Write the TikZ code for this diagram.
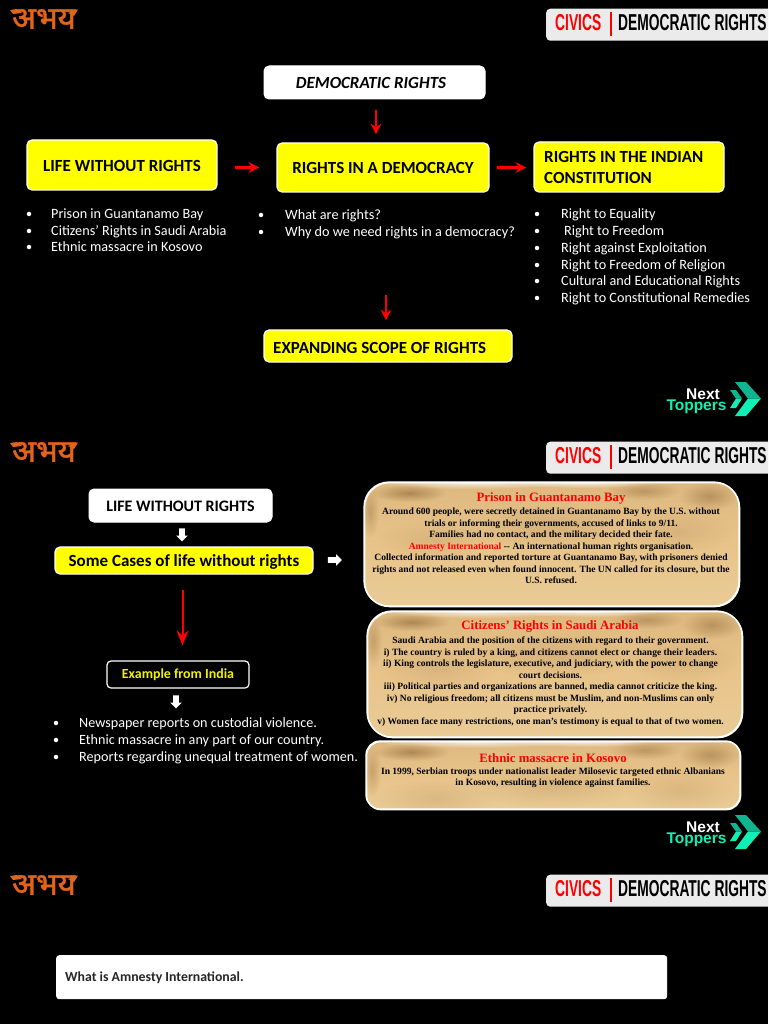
\documentclass[tikz,border=0pt]{standalone}
\usepackage{fontspec}
\usetikzlibrary{shapes.arrows,arrows.meta,fadings}
\setmainfont{Carlito}
\newfontfamily\hdfont[FakeStretch=0.6]{Liberation Sans}
\newfontfamily\serfont{Liberation Serif}
\newfontfamily\ntfont{Liberation Sans}
\newfontfamily\devfont[Script=Devanagari,FakeBold=2.5]{Noto Sans}
\newfontfamily\devfontb[Script=Devanagari,FakeBold=0.5]{Noto Sans}
\definecolor{ryellow}{HTML}{FFFF00}
\definecolor{parch}{HTML}{E8C48A}
\definecolor{parchtop}{HTML}{DDB980}
\definecolor{parchlow}{HTML}{EACB96}
\definecolor{blot}{HTML}{9A7040}
\definecolor{ntdark}{HTML}{10B48E}
\definecolor{ntlight}{HTML}{10F0B4}
\definecolor{logoor}{HTML}{E0661A}
\definecolor{logodk}{HTML}{8E2206}
\definecolor{hdgrey}{HTML}{EBEBEB}
\definecolor{exyellow}{HTML}{F2F200}
\tikzfading[name=softblot,inner color=transparent!0,outer color=transparent!100]
\newcommand{\lw}[2]{\raisebox{-#1pt}[0pt][0pt]{#2}}
\tikzset{
  x=1pt,y=-1pt,
  whitebox/.style={draw=white,fill=white,rounded corners=5pt,line width=1pt,text=black,inner sep=0pt},
  yellowbox/.style={draw=white,fill=ryellow,rounded corners=5pt,line width=1.2pt,text=black,inner sep=0pt},
  boxtext/.style={font=\fontsize{17}{20}\selectfont\bfseries},
  bodytext/.style={text=white,font=\fontsize{14.2}{16}\selectfont,anchor=mid west,inner sep=0pt,yshift=-2pt},
  dotmark/.style={circle,fill=white,inner sep=0pt,minimum size=4.5pt},
  redarrow/.style={draw=red,line width=2.2pt,-{Stealth[length=11pt,width=11pt,inset=4pt]}},
  blockarrow/.style={single arrow,fill=white,inner sep=0pt,text width=5.5pt,text height=5.5pt,text depth=0pt,minimum height=13pt,single arrow head extend=3pt,single arrow tip angle=90},
  parchbox/.style={draw=white,line width=1.3pt,top color=parchtop,bottom color=parchlow,middle color=parch,inner sep=0pt},
  partitle/.style={text=red,font=\fontsize{12.8}{14}\selectfont\serfont\bfseries,inner sep=0pt},
  partext/.style={text=black,align=center,inner sep=0pt,font=\fontsize{9.55}{11.45}\selectfont\serfont\bfseries},
  logo/.pic={
    \node[text=logodk,font=\fontsize{31}{34}\selectfont\devfont,inner sep=0pt] (-back) at (44,19) {अभय};
    \node[text=logoor,font=\fontsize{31}{34}\selectfont\devfontb,inner sep=0pt] (-mark) at (44,19) {अभय};
    \fill[logoor] (10,10) -- (17,9) -- (22,13) -- (13,14) -- cycle;
    \fill[logoor] (68,13) -- (78,9.5) -- (74,16) -- cycle;
  },
  header/.pic={
    \node[fill=hdgrey,rounded corners=4pt,minimum width=230pt,minimum height=32pt,anchor=north west,inner sep=0pt] (-box) at (546,8.5) {};
    \node[text=red,font=\fontsize{23}{24}\selectfont\hdfont\bfseries,inner sep=0pt,anchor=mid west] (-civ) at (555,28.5) {CIVICS};
    \fill[red] (610,12) rectangle (612,36);
    \node[text=black,font=\fontsize{23}{24}\selectfont\hdfont\bfseries,inner sep=0pt,anchor=mid west] (-dem) at (618,28.5) {DEMOCRATIC RIGHTS};
  },
  nextlogo/.pic={
    \node[text=white,font=\fontsize{15.5}{16}\selectfont\ntfont\bfseries,inner sep=0pt] (-next) at (703,394) {Next};
    \node[text=ntlight,font=\fontsize{15.5}{16}\selectfont\ntfont\bfseries,inner sep=0pt] (-top) at (696.5,407) {Toppers};
    \fill[ntdark] (735,382) -- (746,382) -- (761,398.5) -- (748,398.5) -- cycle;
    \fill[ntlight] (748,398.5) -- (761,398.5) -- (746,416) -- (735,416) -- cycle;
    \fill[ntdark] (730,390) -- (736,390) -- (742,398.5) -- (736,398.5) -- cycle;
    \fill[ntlight] (736,398.5) -- (742,398.5) -- (736,408) -- (730,408) -- cycle;
  }
}
\newcommand{\softb}[5][.7]{% opacity; x y rx ry
  \fill[blot,opacity=#1,path fading=softblot] (#2,#3) ellipse (#4 and #5);}
\newcommand{\softw}[5][.8]{%
  \fill[white,opacity=#1,path fading=softblot] (#2,#3) ellipse (#4 and #5);}
\newcommand{\blotches}[5]{% x y width height radius
  \begin{scope}
    \clip[rounded corners=#5] (#1,#2) rectangle ++(#3,#4);
    \softw{#1+110}{#2}{100}{7}
    \softw{#1+220}{#2}{80}{6}
    \softb{#1+45}{#2+11}{38}{9}
    \softb[.55]{#1+#3-30}{#2+14}{30}{14}
    \softb[.5]{#1+#3-95}{#2+9}{36}{9}
    \softb[.4]{#1+6}{#2+30}{9}{26}
    \softb[.2]{#1+#3/2}{#2+45}{85}{22}
    \softb[.18]{#1+70}{#2+58}{60}{20}
    \softb[.18]{#1+#3-60}{#2+50}{55}{22}
  \end{scope}
  \draw[white,line width=1.3pt,rounded corners=#5] (#1,#2) rectangle ++(#3,#4);
}
\begin{document}
\begin{tikzpicture}
\useasboundingbox (0,0) rectangle (768,1024);
\fill[black] (0,0) rectangle (768,1024);
% repeating furniture
\pic (la) at (0,0) {logo};
\pic (lb) at (0,433) {logo};
\pic (lc) at (0,866) {logo};
\begin{scope}
\clip (0,0) rectangle (768,1024);
\pic (ha) at (0,0) {header};
\pic (hb) at (0,433) {header};
\pic (hc) at (0,866) {header};
\end{scope}
\pic (na) at (0,0) {nextlogo};
\pic (nb) at (0,433) {nextlogo};
% page 1
\node[whitebox,minimum width=221pt,minimum height=33pt,font=\fontsize{17}{20}\selectfont\bfseries\itshape] (dr) at (374.5,82.5) {\hspace*{-7pt}DEMOCRATIC RIGHTS};
\node[yellowbox,boxtext,minimum width=190pt,minimum height=50pt] (lwr) at (122,165) {\lw{6.5}{LIFE WITHOUT RIGHTS}};
\node[yellowbox,boxtext,minimum width=212pt,minimum height=49pt] (rid) at (383,167.5) {\lw{6}{RIGHTS IN A DEMOCRACY}};
\node[yellowbox,minimum width=190pt,minimum height=50pt] (rii) at (629,167) {};
\node[text=black,anchor=west,align=left,inner sep=0pt,font=\fontsize{17}{21}\selectfont\bfseries] (riit) at (544,167.5) {RIGHTS IN THE INDIAN\\CONSTITUTION};
\node[yellowbox,minimum width=248pt,minimum height=32pt] (esr) at (388,346) {};
\node[boxtext,text=black,anchor=mid west,inner sep=0pt] (esrt) at (273,351) {EXPANDING SCOPE OF RIGHTS};
\draw[redarrow,shorten <=11pt,shorten >=8pt] (dr.south -| 376,0) -- (rid.north -| 376,0);
\draw[redarrow,shorten <=17pt,shorten >=17pt] (lwr.east |- rid.west) -- (rid.west);
\draw[redarrow,shorten <=7pt,shorten >=7pt] (rid.east) -- (rii.west |- rid.east);
\coordinate (exptop) at (386,295);
\draw[redarrow,shorten >=9pt] (exptop) -- (esr.north -| exptop);
% bullets 1
\foreach \y/\t [count=\i] in {214/Prison in Guantanamo Bay,231/Citizens’ Rights in Saudi Arabia,247/Ethnic massacre in Kosovo}{
  \node[dotmark] (ba\i) at (29,\y) {};
  \node[bodytext] (ta\i) at (51,\y) {\t};
}
\foreach \y/\t [count=\i] in {215/What are rights?,232/Why do we need rights in a democracy?}{
  \node[dotmark] (bb\i) at (261,\y) {};
  \node[bodytext] (tb\i) at (285,\y) {\t};
}
\foreach \y/\x/\t [count=\i] in {214/561/Right to Equality,231/564/Right to Freedom,248/561/Right against Exploitation,265/561/Right to Freedom of Religion,281/561/Cultural and Educational Rights,298/561/Right to Constitutional Remedies}{
  \node[dotmark] (bc\i) at (537,\y) {};
  \node[bodytext] (tc\i) at (\x,\y) {\t};
}
% page 2 left
\node[whitebox,minimum width=183pt,minimum height=33pt,font=\fontsize{16}{19}\selectfont\bfseries] (lwr2) at (180.5,505.5) {\lw{5.7}{LIFE WITHOUT RIGHTS}};
\node[yellowbox,minimum width=258pt,minimum height=27pt,font=\fontsize{17}{20}\selectfont\bfseries] (cases) at (184,560.5) {\lw{5.5}{Some Cases of life without rights}};
\node[draw=white,fill=black,rounded corners=4pt,line width=1.2pt,minimum width=142pt,minimum height=27pt,text=exyellow,inner sep=0pt,font=\fontsize{13.9}{16}\selectfont\bfseries] (india) at (178,674.5) {Example from India};
\node[blockarrow,shape border rotate=270] (da1) at (182,533.5) {};
\node[blockarrow,minimum height=14pt] (ra1) at (333.5,560) {};
\node[blockarrow,shape border rotate=270] (da2) at (176,700.5) {};
\draw[draw=red,line width=2pt,-{Stealth[length=15pt,width=12pt,inset=5pt]},shorten <=15pt,shorten >=15pt] (cases.south -| 182.5,0) -- (india.north -| 182.5,0);
\foreach \y/\t [count=\i] in {723/Newspaper reports on custodial violence.,740/Ethnic massacre in any part of our country.,757/Reports regarding unequal treatment of women.}{
  \node[dotmark] (bd\i) at (56,\y) {};
  \node[bodytext,font=\fontsize{14.15}{16}\selectfont] (td\i) at (79,\y) {\t};
}
% parchments
\node[parchbox,rounded corners=25pt,minimum width=375pt,minimum height=124pt,anchor=north west] (p1) at (364,482) {};
\blotches{364}{482}{375}{124}{25pt}
\node[parchbox,rounded corners=25pt,minimum width=375pt,minimum height=126pt,anchor=north west] (p2) at (367,611) {};
\blotches{367}{611}{375}{126}{25pt}
\node[parchbox,rounded corners=14pt,minimum width=374pt,minimum height=68pt,anchor=north west] (p3) at (366,741) {};
\blotches{366}{741}{374}{68}{14pt}
\node[partitle] (p1t) at (551,498) {Prison in Guantanamo Bay};
\node[partext,anchor=north] (p1b) at (551,508) {Around 600 people, were secretly detained in Guantanamo Bay by the U.S. without\\
trials or informing their governments, accused of links to 9/11.\\
Families had no contact, and the military decided their fate.\\
\textcolor{red}{Amnesty International} -- An international human rights organisation.\\
Collected information and reported torture at Guantanamo Bay, with prisoners denied\\
rights and not released even when found innocent. The UN called for its closure, but the\\
U.S. refused.};
\node[partitle] (p2t) at (550,626) {Citizens’ Rights in Saudi Arabia};
\node[partext,anchor=north] (p2b) at (550.5,637) {Saudi Arabia and the position of the citizens with regard to their government.\\
i) The country is ruled by a king, and citizens cannot elect or change their leaders.\\
ii) King controls the legislature, executive, and judiciary, with the power to change\\
court decisions.\\
iii) Political parties and organizations are banned, media cannot criticize the king.\\
iv) No religious freedom; all citizens must be Muslim, and non-Muslims can only\\
practice privately.\\
v) Women face many restrictions, one man’s testimony is equal to that of two women.};
\node[partitle] (p3t) at (553,758) {Ethnic massacre in Kosovo};
\node[partext,anchor=north,font=\fontsize{9.55}{11}\selectfont\serfont\bfseries] (p3b) at (553,768) {In 1999, Serbian troops under nationalist leader Milosevic targeted ethnic Albanians\\
in Kosovo, resulting in violence against families.};
% page 3
\node[fill=white,rounded corners=3pt,minimum width=611pt,minimum height=44pt,anchor=north west,inner sep=0pt] (q) at (56,955) {};
\node[anchor=mid west,inner sep=0pt,text=black!85,yshift=-2pt,font=\fontsize{13.8}{16}\selectfont\bfseries] (qt) at (65,977) {What is Amnesty International.};
\end{tikzpicture}
\end{document}
